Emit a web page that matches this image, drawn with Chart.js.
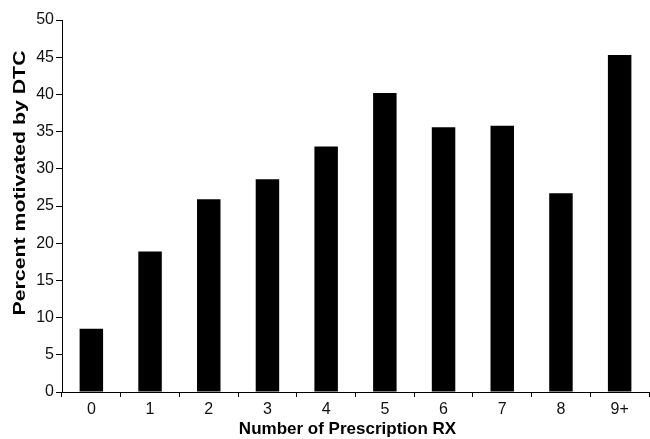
<!DOCTYPE html>
<html>
<head>
<meta charset="utf-8">
<script src="https://cdn.jsdelivr.net/npm/chart.js@4/dist/chart.umd.min.js"></script>
<style>
  html, body { margin: 0; padding: 0; background: #fff; }
  #wrap { width: 650px; height: 439px; }
</style>
</head>
<body>
<div id="wrap"><canvas id="rxChart" width="650" height="439"></canvas></div>
<script>
const categories = ['0', '1', '2', '3', '4', '5', '6', '7', '8', '9+'];
const percentMotivated = [8.5, 18.9, 25.9, 28.6, 33.0, 40.2, 35.6, 35.8, 26.7, 45.3];
const yTicks = [0, 5, 10, 15, 20, 25, 30, 35, 40, 45, 50];

const fontFamily = '"Liberation Sans", Arial, Helvetica, sans-serif';

// axis titles drawn by hand: in the reference they sit off the plot centre,
// and the y one is stretched along its length
const axisTitlePlugin = {
    id: 'axisTitles',
    afterDraw: function(chart) {
        const c = chart.ctx;
        c.save();
        c.font = 'bold 17px ' + fontFamily;
        c.fillStyle = '#000';
        c.textAlign = 'center';
        c.textBaseline = 'middle';
        c.fillText('Number of Prescription RX', 347.5, 429);

        const yText = 'Percent motivated by DTC';
        const w = c.measureText(yText).width;
        c.translate(20, 183);
        c.rotate(-Math.PI / 2);
        c.scale(265 / w, 1);
        c.fillText(yText, 0, 0);
        c.restore();
    }
};

var ctx = document.getElementById('rxChart').getContext('2d');
var chart = new Chart(ctx, {
    type: 'bar',
    data: {
        labels: categories,
        datasets: [{
            data: percentMotivated,
            backgroundColor: '#000',
            borderWidth: 0,
            barPercentage: 0.8,
            categoryPercentage: 0.5
        }]
    },
    options: {
        responsive: false,
        animation: false,
        layout: { padding: { top: 20, right: 1, bottom: 0, left: 0 } },
        plugins: {
            legend: { display: false },
            tooltip: { enabled: false }
        },
        scales: {
            x: {
                grid: { display: true, drawOnChartArea: false, tickLength: 5, color: '#000', offset: true },
                border: { color: '#000', width: 1 },
                ticks: { color: '#111', font: { family: fontFamily, size: 16 }, padding: 3 },
                afterFit: function(axis) { axis.height = 47; }
            },
            y: {
                min: 0,
                max: 50,
                afterBuildTicks: function(axis) { axis.ticks = yTicks.map(v => ({ value: v })); },
                grid: { display: true, drawOnChartArea: false, tickLength: 6, color: '#000' },
                border: { color: '#000', width: 1 },
                ticks: { color: '#111', font: { family: fontFamily, size: 16 }, padding: 2 },
                afterFit: function(axis) { axis.width = 62; }
            }
        }
    },
    plugins: [axisTitlePlugin]
});
</script>
</body>
</html>
